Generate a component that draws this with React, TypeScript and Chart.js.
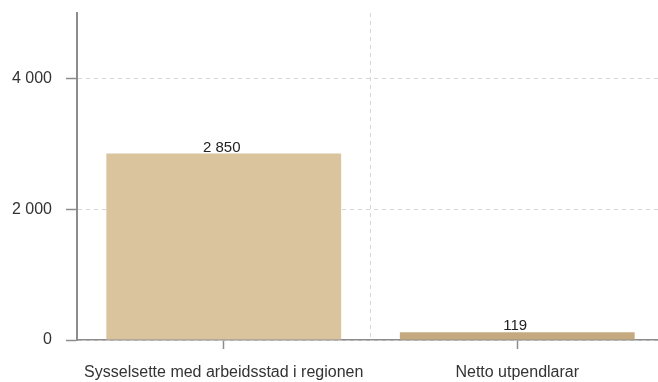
import React, { useEffect, useRef } from 'react';
import { Chart, registerables } from 'chart.js';

Chart.register(...registerables);

const CATEGORIES = ['Sysselsette med arbeidsstad i regionen', 'Netto utpendlarar'];
const VALUES = [2850, 119];
const BAR_COLORS = ['#d9c49e', '#c5a97f'];
const Y_TICKS = [0, 2000, 4000];
const Y_MAX = 5000;

const FONT = '"Liberation Sans", Arial, Helvetica, sans-serif';
const AXIS_COLOR = '#8c8c8c';
const GRID_COLOR = '#d6d6d6';
const TEXT_COLOR = '#333333';

const fmt = (v: number) => String(Math.round(v)).replace(/\B(?=(\d{3})+(?!\d))/g, '\u00a0');

const valueLabels = {
  id: 'valueLabels',
  afterDatasetsDraw(chart: any) {
    const ctx = chart.ctx;
    chart.data.datasets.forEach((ds: any, i: number) => {
      const meta = chart.getDatasetMeta(i);
      meta.data.forEach((bar: any, j: number) => {
        ctx.save();
        ctx.font = `15px ${FONT}`;
        ctx.fillStyle = '#222222';
        ctx.textAlign = 'center';
        ctx.textBaseline = 'alphabetic';
        ctx.fillText(fmt(ds.data[j]), bar.x - 2, bar.y - 2);
        ctx.restore();
      });
    });
  },
};

export default function App() {
  const ref = useRef<HTMLCanvasElement | null>(null);

  useEffect(() => {
    if (!ref.current) return;
    const chart = new Chart(ref.current, {
      type: 'bar',
      data: {
        labels: CATEGORIES,
        datasets: [
          {
            data: VALUES,
            backgroundColor: BAR_COLORS,
            borderWidth: 0,
            barPercentage: 1,
            categoryPercentage: 0.8,
          },
        ],
      },
      options: {
        animation: false,
        responsive: false,
        devicePixelRatio: 1,
        layout: { padding: { top: 13, right: 8, left: 0, bottom: 0 } },
        plugins: {
          legend: { display: false },
          tooltip: { enabled: false },
        },
        scales: {
          x: {
            type: 'category',
            offset: true,
            grid: {
              display: true,
              offset: false,
              drawOnChartArea: false,
              color: 'transparent',
              tickColor: AXIS_COLOR,
              tickLength: 9,
              tickWidth: 1.5,
            },
            border: { display: true, color: AXIS_COLOR, width: 1.5 },
            ticks: {
              color: TEXT_COLOR,
              font: { family: FONT, size: 16 },
              padding: 14,
              maxRotation: 0,
              autoSkip: false,
            },
            afterFit: (s: any) => {
              s.height = 42;
              s.paddingLeft = 0;
              s.paddingRight = 0;
            },
          },
          x2: {
            type: 'category',
            position: 'top',
            offset: true,
            grid: {
              offset: true,
              drawTicks: false,
              lineWidth: 1,
              color: (c: any) => (c.index === 1 ? GRID_COLOR : 'transparent'),
            },
            border: { display: false, dash: [4, 4] },
            ticks: { display: false },
            afterFit: (s: any) => {
              s.height = 0;
              s.paddingLeft = 0;
              s.paddingRight = 0;
            },
          },
          y: {
            type: 'linear',
            min: 0,
            max: Y_MAX,
            afterBuildTicks: (s: any) => {
              s.ticks = Y_TICKS.map((v) => ({ value: v }));
            },
            grid: {
              color: GRID_COLOR,
              lineWidth: 1,
              tickColor: AXIS_COLOR,
              tickLength: 11,
              tickWidth: 1.5,
            },
            border: { display: true, color: AXIS_COLOR, width: 2, dash: [4, 4] },
            ticks: {
              color: TEXT_COLOR,
              font: { family: FONT, size: 16 },
              padding: 14,
              callback: (v: any) => fmt(Number(v)),
            },
            afterFit: (s: any) => {
              s.width = 77;
              s.paddingTop = 0;
              s.paddingBottom = 0;
            },
          },
        },
      },
      plugins: [valueLabels],
    });
    return () => chart.destroy();
  }, []);

  return (
    <div
      style={{
        position: 'fixed',
        left: 0,
        top: 0,
        width: 658,
        height: 382,
        overflow: 'hidden',
        background: '#ffffff',
      }}
    >
      <canvas ref={ref} width={672} height={382} style={{ width: 672, height: 382, display: 'block' }} />
    </div>
  );
}
